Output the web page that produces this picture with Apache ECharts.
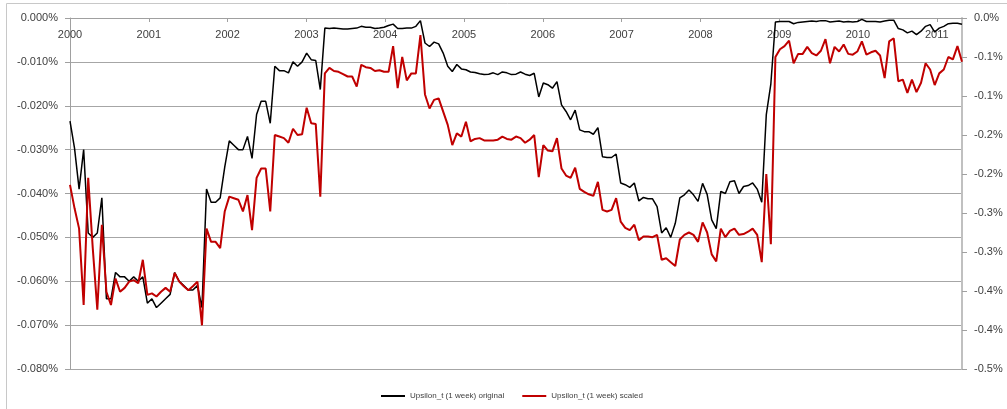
<!DOCTYPE html>
<html>
<head>
<meta charset="utf-8">
<script src="https://cdn.jsdelivr.net/npm/echarts@6/dist/echarts.min.js"></script>
<style>
* { margin: 0; padding: 0; }
body { background: #fff; }
#chart { width: 1007px; height: 409px; }
</style>
</head>
<body>
<div id="chart"></div>
<script>
// x range of the weekly series (fractional years), sampled every ~3 weeks
const firstYear = 2000
const lastYear = 2011.32

// Upsilon_t (1 week) original, in % (left axis)
const original = [
  -0.0235, -0.0297, -0.039, -0.030, -0.049, -0.050, -0.049, -0.041, -0.064, -0.064,
  -0.058, -0.059, -0.059, -0.060, -0.059, -0.060, -0.059, -0.065, -0.064, -0.066,
  -0.065, -0.064, -0.063, -0.058, -0.060, -0.061, -0.062, -0.062, -0.061, -0.066,
  -0.039, -0.042, -0.042, -0.041, -0.034, -0.028, -0.029, -0.030, -0.030, -0.027,
  -0.032, -0.022, -0.019, -0.019, -0.024, -0.011, -0.012, -0.012, -0.0125, -0.010,
  -0.011, -0.010, -0.008, -0.0095, -0.0097, -0.0163, -0.0023, -0.0024, -0.0023, -0.0024,
  -0.0025, -0.0025, -0.0024, -0.0023, -0.0019, -0.0021, -0.0021, -0.0024, -0.0023, -0.0021,
  -0.0017, -0.0014, -0.0024, -0.0024, -0.0023, -0.0023, -0.0019, -0.0006, -0.0057, -0.0065,
  -0.0055, -0.0059, -0.0080, -0.0110, -0.0122, -0.0106, -0.0116, -0.0118, -0.0123, -0.0124,
  -0.0127, -0.0129, -0.0128, -0.0125, -0.0129, -0.0123, -0.0125, -0.0129, -0.0128, -0.0123,
  -0.0128, -0.0131, -0.0126, -0.018, -0.0148, -0.0152, -0.016, -0.0145, -0.0198, -0.0213,
  -0.0232, -0.021, -0.0255, -0.0259, -0.0259, -0.0265, -0.025, -0.0316, -0.0318, -0.0318,
  -0.031, -0.0376, -0.038, -0.0386, -0.0376, -0.0417, -0.0409, -0.0412, -0.0412, -0.043,
  -0.049, -0.0478, -0.050, -0.0468, -0.041, -0.0403, -0.0392, -0.0403, -0.0418, -0.0377,
  -0.0402, -0.046, -0.048, -0.0395, -0.040, -0.0373, -0.0371, -0.040, -0.0384, -0.0382,
  -0.0376, -0.039, -0.042, -0.022, -0.015, -0.0009, -0.0008, -0.0008, -0.0008, -0.0013,
  -0.001, -0.0009, -0.0008, -0.0007, -0.0008, -0.0006, -0.0006, -0.0009, -0.0008, -0.0007,
  -0.0009, -0.0008, -0.0009, -0.0008, -0.0003, -0.0008, -0.0008, -0.0008, -0.0009, -0.0007,
  -0.0005, -0.0005, -0.0024, -0.0027, -0.0034, -0.0030, -0.0038, -0.0030, -0.0019, -0.0015,
  -0.0032, -0.0023, -0.0019, -0.0013, -0.0012, -0.0012, -0.0014
]

// Upsilon_t (1 week) scaled, in % (right axis)
const scaled = [
  -0.214, -0.244, -0.270, -0.368, -0.205, -0.295, -0.374, -0.265, -0.351, -0.368,
  -0.334, -0.351, -0.346, -0.338, -0.336, -0.340, -0.310, -0.355, -0.353, -0.357,
  -0.351, -0.346, -0.351, -0.327, -0.338, -0.344, -0.349, -0.344, -0.338, -0.394,
  -0.270, -0.287, -0.287, -0.295, -0.248, -0.229, -0.231, -0.233, -0.248, -0.227,
  -0.272, -0.205, -0.193, -0.193, -0.248, -0.150, -0.152, -0.154, -0.160, -0.142,
  -0.150, -0.149, -0.115, -0.135, -0.136, -0.229, -0.071, -0.064, -0.068, -0.069,
  -0.072, -0.075, -0.075, -0.088, -0.060, -0.063, -0.064, -0.068, -0.067, -0.069,
  -0.069, -0.036, -0.090, -0.050, -0.080, -0.071, -0.071, -0.022, -0.098, -0.116,
  -0.105, -0.103, -0.120, -0.137, -0.163, -0.148, -0.152, -0.133, -0.158, -0.155,
  -0.154, -0.157, -0.157, -0.157, -0.156, -0.152, -0.155, -0.156, -0.152, -0.154,
  -0.160, -0.156, -0.150, -0.204, -0.163, -0.170, -0.171, -0.154, -0.193, -0.202,
  -0.205, -0.192, -0.219, -0.223, -0.226, -0.228, -0.210, -0.246, -0.248, -0.246,
  -0.231, -0.261, -0.269, -0.272, -0.265, -0.285, -0.280, -0.280, -0.281, -0.278,
  -0.310, -0.308, -0.313, -0.318, -0.284, -0.278, -0.275, -0.278, -0.287, -0.262,
  -0.275, -0.303, -0.312, -0.270, -0.281, -0.273, -0.270, -0.278, -0.277, -0.274,
  -0.270, -0.278, -0.313, -0.200, -0.290, -0.050, -0.040, -0.036, -0.029, -0.058,
  -0.046, -0.046, -0.037, -0.045, -0.048, -0.042, -0.027, -0.058, -0.037, -0.043,
  -0.034, -0.046, -0.047, -0.043, -0.030, -0.047, -0.044, -0.042, -0.048, -0.077,
  -0.030, -0.026, -0.081, -0.079, -0.096, -0.079, -0.095, -0.083, -0.058, -0.066,
  -0.086, -0.071, -0.066, -0.050, -0.053, -0.036, -0.056
]

const step = (lastYear - firstYear) / (original.length - 1)
const pairs = arr => arr.map((v, i) => [firstYear + i * step, v])

const txt = { color: '#404040', fontFamily: 'Liberation Sans', fontSize: 11 }

const chart = echarts.init(document.getElementById('chart'))
chart.setOption({
    animation: false,
    graphic: [{
        type: 'rect',
        shape: { x: 6.5, y: 3.5, width: 1100, height: 500 },
        style: { fill: 'none', stroke: '#c8c8c8', lineWidth: 1 },
        silent: true
    }],
    grid: { left: 70, right: 45, top: 18, bottom: 40 },
    legend: {
        left: 376,
        top: 387,
        icon: 'rect',
        itemWidth: 24,
        itemHeight: 2,
        itemGap: 18,
        textStyle: { color: '#404040', fontFamily: 'Liberation Sans', fontSize: 8 },
        data: ['Upsilon_t (1 week) original', 'Upsilon_t (1 week) scaled']
    },
    xAxis: {
        type: 'value',
        position: 'top',
        min: firstYear,
        max: lastYear,
        interval: 1,
        axisLine: { onZero: false, lineStyle: { color: '#a0a0a0', width: 1 } },
        axisTick: { inside: true, length: 4, lineStyle: { color: '#a0a0a0' } },
        axisLabel: {
            inside: true,
            margin: 11,
            showMaxLabel: false,
            ...txt,
            formatter: v => Number.isInteger(v) ? String(v) : ''
        },
        splitLine: { show: false }
    },
    yAxis: [{
        type: 'value',
        min: -0.08,
        max: 0,
        interval: 0.01,
        axisLine: { show: true, lineStyle: { color: '#a0a0a0' } },
        axisTick: { show: true, length: 5, lineStyle: { color: '#a0a0a0' } },
        axisLabel: { margin: 12, ...txt, formatter: v => v.toFixed(3) + '%' },
        splitLine: { lineStyle: { color: '#a6a6a6', width: 1 } }
    }, {
        type: 'value',
        position: 'right',
        min: -0.45,
        max: 0,
        interval: 0.05,
        axisLine: { show: true, lineStyle: { color: '#c0c0c0', width: 2 } },
        axisTick: { show: true, length: 5, lineStyle: { color: '#a0a0a0' } },
        axisLabel: {
            margin: 12,
            ...txt,
            formatter: v => {
                const r = Math.round(Math.abs(v) * 10 + 1e-9) / 10
                return (r === 0 ? '' : '-') + r.toFixed(1) + '%'
            }
        },
        splitLine: { show: false }
    }],
    series: [{
        name: 'Upsilon_t (1 week) original',
        type: 'line',
        yAxisIndex: 0,
        symbol: 'none',
        color: '#000000',
        lineStyle: { width: 1.5 },
        data: pairs(original)
    }, {
        name: 'Upsilon_t (1 week) scaled',
        type: 'line',
        yAxisIndex: 1,
        symbol: 'none',
        color: '#c00000',
        lineStyle: { width: 2 },
        data: pairs(scaled)
    }]
})
</script>
</body>
</html>
